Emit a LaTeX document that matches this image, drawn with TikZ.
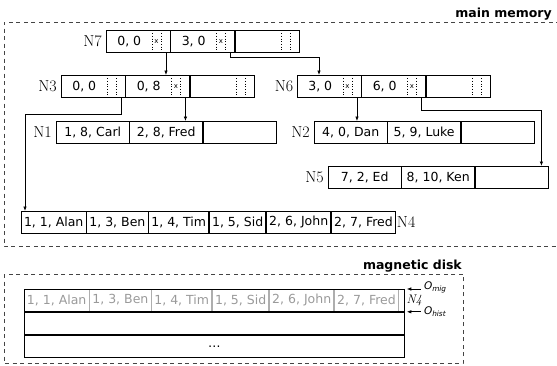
\documentclass[tikz,border=0pt]{standalone}
\usepackage{fontspec}
\setsansfont{DejaVu Sans}
\usetikzlibrary{arrows.meta,calc,positioning}
\definecolor{oldGray}{HTML}{9A9A9A}
\definecolor{dashGray}{HTML}{444444}

\begin{document}
\begin{tikzpicture}[x=1pt,y=-1pt,
  every node/.style={inner sep=0pt},
  cell/.style={draw,line width=0.8pt,minimum height=22pt,font=\sffamily\fontsize{12.5}{15}\selectfont},
  keycell/.style={cell,minimum width=63.67pt,execute at end node={\hspace{18pt}},
    path picture={
      \draw[dotted,line width=0.7pt] ([xshift=-18pt]path picture bounding box.north east)
        -- ([xshift=-18pt]path picture bounding box.south east);
      \draw[dotted,line width=0.7pt] ([xshift=-9pt]path picture bounding box.north east)
        -- ([xshift=-9pt]path picture bounding box.south east);
    }},
  hasptr/.style={label={[font=\sffamily\fontsize{7}{7}\selectfont,xshift=18.3pt]center:x}},
  leafcell/.style={cell,minimum width=72.67pt},
  rowcell/.style={cell,inner xsep=2.6pt},
  oldcell/.style={rowcell,draw=oldGray!80,text=oldGray},
  nname/.style={font=\fontsize{16}{16}\selectfont},
  memframe/.style={draw=dashGray,line width=0.9pt,dash pattern=on 4pt off 3.5pt},
  frametitle/.style={font=\sffamily\bfseries\fontsize{12.5}{15}\selectfont},
  ptr/.style={-{Latex[length=4.5pt,width=3.5pt]},line width=0.7pt},
  olabel/.style={font=\sffamily\itshape\fontsize{10.5}{12}\selectfont}
]
\useasboundingbox (0,0) rectangle (557,365);

% main memory
\draw[memframe] (560,22) -- (4,22) -- (4,246) -- (560,246);
\node[frametitle,anchor=base east] (memtitle) at (552,17) {main memory};

% inner nodes
\node[keycell,hasptr,anchor=north west] (N7a) at (106,30) {0, 0};
\node[keycell,hasptr,right=0pt of N7a] (N7b) {3, 0};
\node[keycell,right=0pt of N7b] (N7c) {};
\node[nname,left=4pt of N7a] (N7) {N7};

\node[keycell,anchor=north west] (N3a) at (61,75) {0, 0};
\node[keycell,hasptr,right=0pt of N3a] (N3b) {0, 8};
\node[keycell,right=0pt of N3b] (N3c) {};
\node[nname,left=4pt of N3a] (N3) {N3};

\node[keycell,hasptr,anchor=north west] (N6a) at (297,75) {3, 0};
\node[keycell,hasptr,right=0pt of N6a] (N6b) {6, 0};
\node[keycell,right=0pt of N6b] (N6c) {};
\node[nname,left=3.5pt of N6a] (N6) {N6};

% leaves
\node[leafcell,anchor=north west] (N1a) at (56,121) {1, 8, Carl};
\node[leafcell,right=0pt of N1a] (N1b) {2, 8, Fred};
\node[leafcell,right=0pt of N1b] (N1c) {};
\node[nname,left=4pt of N1a] (N1) {N1};

\node[leafcell,anchor=north west] (N2a) at (314,121) {4, 0, Dan};
\node[leafcell,right=0pt of N2a] (N2b) {5, 9, Luke};
\node[leafcell,right=0pt of N2b] (N2c) {};
\node[nname,left=4pt of N2a] (N2) {N2};

\node[leafcell,anchor=north west] (N5a) at (328,166) {7, 2, Ed};
\node[leafcell,right=0pt of N5a] (N5b) {8, 10, Ken};
\node[leafcell,right=0pt of N5b] (N5c) {};
\node[nname,left=4pt of N5a] (N5) {N5};

\node[rowcell,anchor=north west] (N4a) at (21,211) {1, 1, Alan};
\node[rowcell,right=0pt of N4a] (N4b) {1, 3, Ben};
\node[rowcell,right=0pt of N4b] (N4c) {1, 4, Tim};
\node[rowcell,right=0pt of N4c] (N4d) {1, 5, Sid};
\node[rowcell,right=0pt of N4d] (N4e) {2, 6, John};
\node[rowcell,right=0pt of N4e] (N4f) {2, 7, Fred};
\node[nname,right=1pt of N4f] (N4) {N4};

% pointers
\coordinate (p7a) at ([xshift=-4.5pt]N7a.south east);
\coordinate (p7b) at ([xshift=-4.5pt]N7b.south east);
\coordinate (p3a) at ([xshift=-4.5pt]N3a.south east);
\coordinate (p3b) at ([xshift=-4.5pt]N3b.south east);
\coordinate (p6a) at ([xshift=-4.5pt]N6a.south east);
\coordinate (p6b) at ([xshift=-4.5pt]N6b.south east);

\draw[ptr] (p7a) -- (p7a |- N3b.north);
\draw[ptr] (p7b) -- ++(0,5) -| ([xshift=22pt]N6a.north west);
\draw[ptr] (p3a) -- ++(0,17) -| ([xshift=4pt]N4a.north west);
\draw[ptr] (p3b) -- (p3b |- N1b.north);
\draw[ptr] (p6a) -- (p6a |- N2a.north);
\draw[ptr] (p6b) -- ++(0,13) -| ([xshift=-7pt]N5c.north east);

% magnetic disk
\draw[memframe] (4,274) rectangle (463,363);
\node[frametitle,anchor=base east] (disktitle) at (462,269) {magnetic disk};

\node[oldcell,anchor=west] (D1) at (24,300) {1, 1, Alan};
\node[oldcell,right=0pt of D1] (D2) {1, 3, Ben};
\node[oldcell,right=0pt of D2] (D3) {1, 4, Tim};
\node[oldcell,right=0pt of D3] (D4) {1, 5, Sid};
\node[oldcell,right=0pt of D4] (D5) {2, 6, John};
\node[oldcell,right=0pt of D5] (D6) {2, 7, Fred};

\node[cell,anchor=north west,minimum width=380pt] (R1) at (24,289) {};
\node[cell,below=0pt of R1,minimum width=380pt] (R2) {};
\node[cell,below=0pt of R2,minimum width=380pt] (R3) {\raisebox{-2pt}{\dots}};
\node[anchor=west,font=\itshape\fontsize{12.5}{13}\selectfont] (D4name) at ([xshift=1.5pt]R1.east) {N4};

\coordinate (omig) at ([xshift=16pt]R1.north east);
\coordinate (ohist) at ([xshift=16pt]R1.south east);
\draw[ptr,shorten >=2pt] (omig) -- (R1.north east);
\draw[ptr,shorten >=2pt] (ohist) -- (R1.south east);
\node[olabel,anchor=west] (omigl) at ([xshift=3pt,yshift=1.5pt]omig) {O\textsubscript{mig}};
\node[olabel,anchor=west] (ohistl) at ([xshift=3pt,yshift=0pt]ohist) {O\textsubscript{hist}};
\end{tikzpicture}
\end{document}
